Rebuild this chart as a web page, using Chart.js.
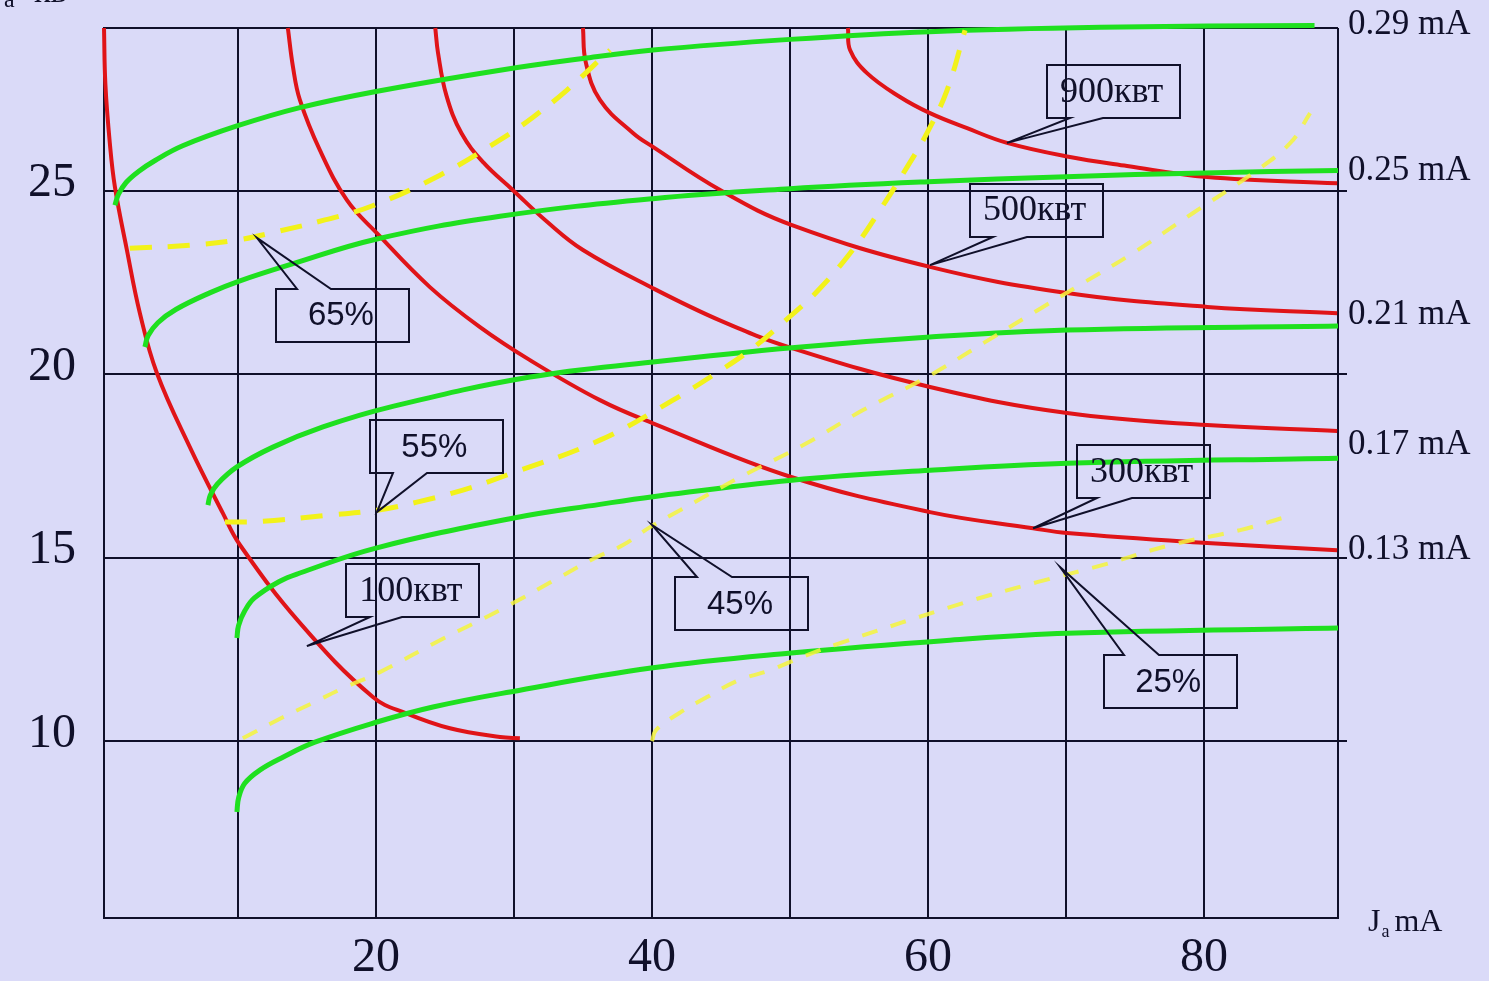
<!DOCTYPE html>
<html>
<head>
<meta charset="utf-8">
<script src="https://cdn.jsdelivr.net/npm/chart.js@4"></script>
<style>
  html, body { margin: 0; padding: 0; background: #dadaf8; }
  #wrap { width: 1489px; height: 981px; position: relative; }
</style>
</head>
<body>
<div id="wrap"><canvas id="myChart"></canvas></div>
<script>
// axis ranges and tick values
const xMin = 0.3, xMax = 89.7;
const yMin = 5.18, yMax = 29.43;
const xGridValues = [10, 20, 30, 40, 50, 60, 70, 80];
const xTickLabels = [20, 40, 60, 80];
const yTickLabels = [10, 15, 20, 25];

// red curves - constant power (x = Ja mA, y = Ua kV)
const red100 = [[0.3,29.43],[0.4,27.9],[0.72,26.3],[1.09,25.1],[1.96,23.38],[2.9,21.66],[4.13,20.03],[6.52,18.01],[8.91,16.21],[10.14,15.35],[14.49,13.22],[19.78,11.2],[22.25,10.75],[25.36,10.35],[28.99,10.11],[30.43,10.08]];
const red300 = [[13.62,29.43],[13.99,28.37],[14.49,27.47],[15.94,26.1],[17.9,24.74],[20.07,23.84],[23.91,22.37],[27.54,21.28],[31.16,20.38],[36.23,19.29],[40.07,18.66],[50.14,17.19],[60.14,16.24],[67.61,15.8],[70.07,15.67],[80.22,15.4],[89.64,15.2]];
const red400 = [[24.3,29.43],[24.5,28.75],[25.1,27.6],[26.2,26.56],[27.8,25.76],[29.93,25.01],[32.4,24.15],[35.0,23.38],[40.07,22.34],[45.0,21.45],[50.14,20.71],[60.14,19.65],[70.07,18.94],[80.22,18.61],[89.64,18.45]];
const red500 = [[35.0,29.43],[35.2,28.5],[36.23,27.47],[38.62,26.57],[40.07,26.19],[45.0,25.0],[50.14,24.06],[60.14,22.92],[70.07,22.21],[80.22,21.83],[89.64,21.66]];
const red900 = [[54.2,29.43],[54.35,28.83],[55.58,28.2],[57.97,27.55],[60.14,27.11],[62.83,26.7],[65.72,26.3],[70.07,25.93],[74.42,25.67],[80.22,25.37],[89.64,25.2]];

// green curves - grid current
const g029 = [[1.09,24.6],[1.35,24.9],[1.9,25.22],[2.8,25.52],[4.0,25.82],[6.0,26.22],[9.93,26.76],[14.49,27.26],[20.0,27.7],[28.99,28.28],[35.0,28.6],[40.07,28.83],[50.0,29.12],[60.1,29.33],[72.5,29.45],[88.0,29.5]];
const g025 = [[3.26,20.74],[3.5,21.05],[4.2,21.4],[5.5,21.76],[8.0,22.22],[10.0,22.52],[13.77,22.98],[20.07,23.68],[28.99,24.3],[40.07,24.78],[50.0,25.05],[60.0,25.24],[70.0,25.38],[80.0,25.48],[89.7,25.55]];
const g021 = [[7.83,16.43],[8.0,16.7],[8.5,17.0],[9.93,17.47],[12.54,18.01],[16.16,18.56],[21.01,19.1],[31.16,19.92],[40.07,20.33],[50.14,20.72],[60.14,21.01],[70.07,21.2],[89.7,21.31]];
const g017 = [[9.93,12.81],[10.05,13.15],[10.5,13.55],[11.2,13.9],[13.0,14.35],[14.49,14.58],[20.0,15.26],[30.0,16.08],[36.23,16.45],[40.07,16.66],[50.14,17.11],[60.14,17.38],[70.07,17.57],[89.7,17.71]];
const g013 = [[9.93,8.07],[10.05,8.45],[10.5,8.85],[11.59,9.21],[13.26,9.56],[15.58,9.97],[20.07,10.52],[24.13,10.93],[29.71,11.34],[39.93,11.99],[50.07,12.4],[61.59,12.75],[70.07,12.94],[89.7,13.08]];

// yellow dashed curves - efficiency
const eff65 = [[2.17,23.43],[6.52,23.51],[9.93,23.65],[13.04,23.9],[16.3,24.2],[19.71,24.58],[24.64,25.42],[28.99,26.38],[31.38,27.0],[33.84,27.74],[36.96,28.83]];
const eff55 = [[9.06,15.97],[11.81,15.99],[16.67,16.16],[20.07,16.29],[22.97,16.51],[26.3,16.84],[29.49,17.25],[36.23,18.2],[41.52,19.29],[44.42,19.97],[47.1,20.65],[49.78,21.5],[51.96,22.25],[54.57,23.4],[56.52,24.47],[58.48,25.64],[59.93,26.57],[61.38,27.74],[62.68,29.37]];
const eff45 = [[10.36,10.08],[13.26,10.65],[15.43,11.04],[17.61,11.44],[20.29,11.88],[24.64,12.75],[28.99,13.57],[33.33,14.47],[35.87,14.99],[37.9,15.34],[39.86,15.83],[42.03,16.29],[46.38,17.19],[51.23,18.12],[55.29,19.02],[59.93,19.92],[63.99,20.84],[68.33,21.83],[71.23,22.48],[74.86,23.3],[79.2,24.39],[83.55,25.48],[86.23,26.29],[87.68,27.11]];
const eff25 = [[40.0,10.0],[40.29,10.3],[41.96,10.76],[43.99,11.2],[46.3,11.66],[48.55,11.93],[50.87,12.29],[53.62,12.67],[62.54,13.76],[67.9,14.33],[72.68,14.8],[77.54,15.34],[82.61,15.75],[85.87,16.1]];

// labels at the right edge
const rightLabels = ['0.29 mA', '0.25 mA', '0.21 mA', '0.17 mA', '0.13 mA'];
const rightLabelValues = [29.51, 25.53, 21.61, 18.07, 15.2];

// callouts: text, tip point, box centre (data values)
const calloutTexts = ['65%', '55%', '45%', '25%', '100квт', '300квт', '500квт', '900квт'];
const calloutTips = [[11.38,23.71],[20.07,16.24],[40.0,15.89],[69.57,14.74],[15.0,12.59],[67.61,15.8],[60.14,22.97],[65.72,26.3]];
const calloutBoxes = [[17.61,21.61],[24.38,18.02],[46.52,13.75],[77.54,11.62],[22.68,14.09],[75.62,17.34],[67.86,24.47],[73.44,27.7]];

const BG = '#dadaf8';
const INK = '#10102a';
const RED = '#e01418';
const GREEN = '#1fe01f';
const YELLOW = '#f2f21a';

function pts(arr) { return arr.map(p => ({ x: p[0], y: p[1] })); }

function redSet(d) {
    return { data: pts(d), borderColor: RED, borderWidth: 4, order: 2 };
}
function greenSet(d) {
    return { data: pts(d), borderColor: GREEN, borderWidth: 5, order: 1 };
}
function yellowSet(d, bright) {
    return {
        data: pts(d),
        borderColor: bright ? YELLOW : 'rgba(244,244,60,0.85)',
        borderWidth: bright ? 5 : 4,
        borderDash: bright ? [22, 16] : [16, 14],
        order: 0
    };
}

const datasets = [
    yellowSet(eff65, true), yellowSet(eff55, true), yellowSet(eff45, false), yellowSet(eff25, false),
    greenSet(g029), greenSet(g025), greenSet(g021), greenSet(g017), greenSet(g013),
    redSet(red100), redSet(red300), redSet(red400), redSet(red500), redSet(red900)
];

// callout box styling
const boxW = 133, boxH = 53;
const calloutSide = ['top', 'bottom', 'top', 'top', 'bottom', 'bottom', 'bottom', 'bottom'];
const calloutBase = [[21, 55], [23, 57], [22, 57], [20, 55], [24, 56], [20, 55], [23, 57], [23, 56]];

const overlay = {
    id: 'overlay',
    beforeDraw(chart) {
        const ctx = chart.ctx;
        ctx.save();
        ctx.fillStyle = BG;
        ctx.fillRect(0, 0, chart.width, chart.height);
        ctx.restore();
    },
    afterDatasetsDraw(chart) {
        const ctx = chart.ctx, xs = chart.scales.x, ys = chart.scales.y, area = chart.chartArea;
        ctx.save();
        ctx.fillStyle = INK;
        ctx.strokeStyle = INK;

        // right side labels
        ctx.font = '35px "Liberation Serif"';
        ctx.textAlign = 'left';
        ctx.textBaseline = 'middle';
        rightLabels.forEach((t, i) => ctx.fillText(t, area.right + 10, ys.getPixelForValue(rightLabelValues[i])));

        // callouts
        ctx.lineWidth = 2;
        calloutTexts.forEach((t, i) => {
            const cx = xs.getPixelForValue(calloutBoxes[i][0]);
            const cy = ys.getPixelForValue(calloutBoxes[i][1]);
            const l = Math.round(cx - boxW / 2), tp = Math.round(cy - boxH / 2);
            const r = l + boxW, b = tp + boxH;
            const tx = xs.getPixelForValue(calloutTips[i][0]);
            const ty = ys.getPixelForValue(calloutTips[i][1]);
            const b1 = l + calloutBase[i][0], b2 = l + calloutBase[i][1];
            ctx.beginPath();
            if (calloutSide[i] === 'top') {
                ctx.moveTo(l, tp); ctx.lineTo(b1, tp); ctx.lineTo(tx, ty); ctx.lineTo(b2, tp);
                ctx.lineTo(r, tp); ctx.lineTo(r, b); ctx.lineTo(l, b); ctx.closePath();
            } else {
                ctx.moveTo(l, tp); ctx.lineTo(r, tp); ctx.lineTo(r, b); ctx.lineTo(b2, b);
                ctx.lineTo(tx, ty); ctx.lineTo(b1, b); ctx.lineTo(l, b); ctx.closePath();
            }
            ctx.stroke();
            ctx.textAlign = 'center';
            ctx.textBaseline = 'middle';
            ctx.font = t.indexOf('%') >= 0 ? '33px "Liberation Sans"' : '36px "Liberation Serif"';
            ctx.fillText(t, cx - 2, cy + 1);
        });

        // x axis title  J(a) mA
        ctx.textAlign = 'left';
        ctx.textBaseline = 'alphabetic';
        let x0 = area.right + 30;
        ctx.font = '32px "Liberation Serif"';
        ctx.fillText('J', x0, area.bottom + 13);
        x0 += ctx.measureText('J').width + 1;
        ctx.font = '18px "Liberation Serif"';
        ctx.fillText('a', x0, area.bottom + 19);
        x0 += ctx.measureText('a').width + 5;
        ctx.font = '32px "Liberation Serif"';
        ctx.fillText('mA', x0, area.bottom + 13);

        // y axis title, mostly cut off at the top edge
        ctx.font = '34px "Liberation Serif"';
        ctx.fillText('U', -20, 2);
        ctx.font = '24px "Liberation Serif"';
        ctx.fillText('a', 4, 7);
        ctx.font = '34px "Liberation Serif"';
        ctx.fillText('кв', 34, 2);
        ctx.restore();
    }
};

function noPad(s) { s.paddingTop = 0; s.paddingBottom = 0; s.paddingLeft = 0; s.paddingRight = 0; }

const ctx = document.getElementById('myChart').getContext('2d');
const myChart = new Chart(ctx, {
    type: 'line',
    data: { datasets: datasets },
    options: {
        responsive: true,
        maintainAspectRatio: false,
        animation: false,
        events: [],
        layout: { padding: { top: 28, right: 142, left: 0, bottom: 0 } },
        elements: {
            point: { radius: 0 },
            line: { tension: 0.4, fill: false }
        },
        datasets: { line: { clip: false } },
        plugins: { legend: { display: false }, tooltip: { enabled: false } },
        scales: {
            x: {
                type: 'linear',
                min: xMin, max: xMax,
                afterBuildTicks: s => { s.ticks = [xMin, ...xGridValues, xMax].map(v => ({ value: v })); },
                afterFit: s => { s.height = 63; noPad(s); },
                ticks: {
                    callback: v => xTickLabels.includes(v) ? String(v) : '',
                    font: { family: 'Liberation Serif', size: 48 },
                    color: INK, padding: 12, maxRotation: 0, autoSkip: false
                },
                grid: { color: INK, lineWidth: 2, drawTicks: false },
                border: { color: INK, width: 2 }
            },
            y: {
                min: yMin, max: yMax,
                afterBuildTicks: s => { s.ticks = [yMin, ...yTickLabels, yMax].map(v => ({ value: v })); },
                afterFit: s => { s.width = 104; noPad(s); },
                ticks: {
                    callback: v => yTickLabels.includes(v) ? String(v) : '',
                    font: { family: 'Liberation Serif', size: 48 },
                    color: INK, padding: 28, labelOffset: -7, autoSkip: false
                },
                grid: { color: INK, lineWidth: 2, drawTicks: false },
                border: { color: INK, width: 2 }
            },
            yRight: {
                position: 'right',
                min: yMin, max: yMax,
                afterBuildTicks: s => { s.ticks = yTickLabels.map(v => ({ value: v })); },
                afterFit: s => { s.width = 9; noPad(s); },
                ticks: { display: false },
                grid: { color: INK, lineWidth: 2, drawOnChartArea: false, drawTicks: true, tickLength: 9 },
                border: { display: false }
            }
        }
    },
    plugins: [overlay]
});
</script>
</body>
</html>
